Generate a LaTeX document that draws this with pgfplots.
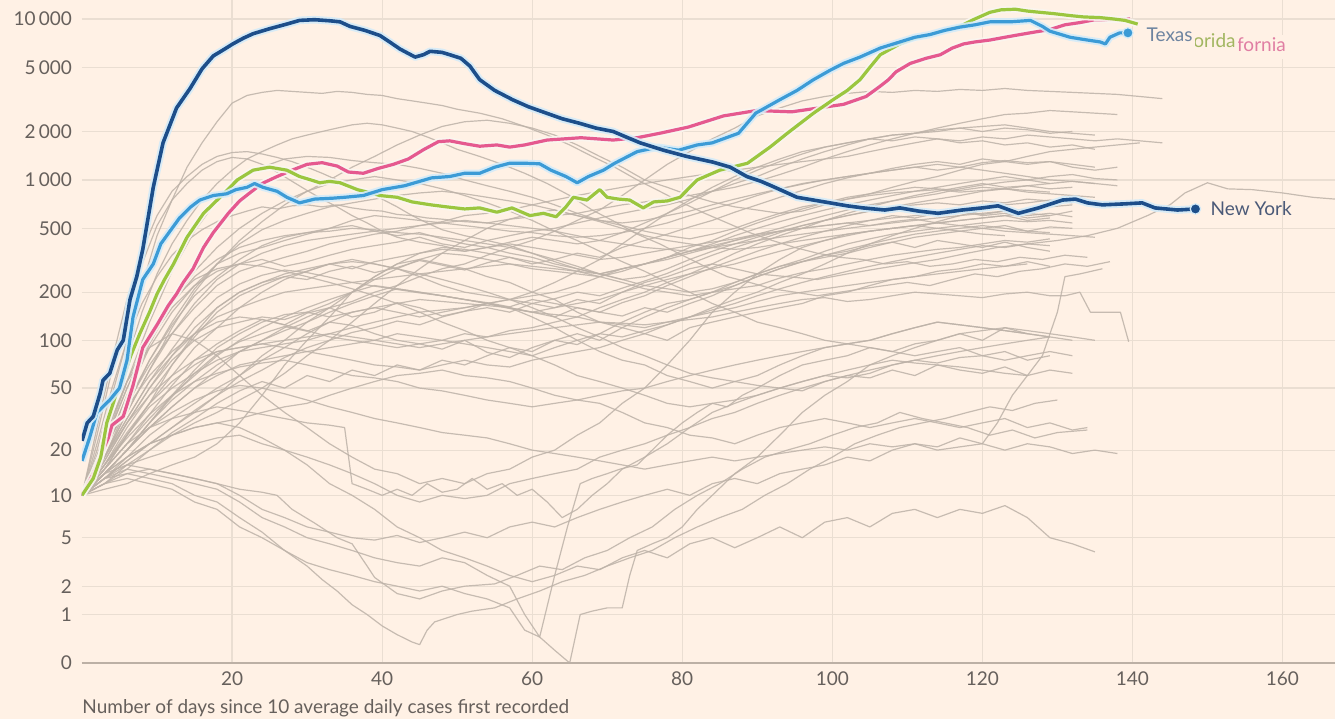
\documentclass[border=0pt]{standalone}
\usepackage{pgfplots}
\usepackage{pgfplotstable}
\pgfplotsset{compat=1.18}
\usepackage{fontspec}
\setmainfont{Lato}
\definecolor{bgc}{HTML}{FFF1E5}
\definecolor{gridc}{HTML}{EADED2}
\definecolor{basec}{HTML}{BCB0A5}
\definecolor{tickc}{HTML}{66605C}
\definecolor{grayl}{HTML}{BDB2A8}
\definecolor{nyc}{HTML}{1D4E8A}
\definecolor{txc}{HTML}{3C9BD6}
\definecolor{flc}{HTML}{9BC63F}
\definecolor{cac}{HTML}{E5598F}
\definecolor{haloblue}{HTML}{D4EBF8}
\definecolor{halow}{HTML}{FAF6F0}
\definecolor{nylab}{HTML}{4B5A78}
\definecolor{txlab}{HTML}{6D84A0}
\definecolor{fllab}{HTML}{A2B660}
\definecolor{calab}{HTML}{E07EA3}
\pgfplotsset{gl/.style={color=grayl, line width=0.6pt, line join=round, opacity=0.85}}
\tikzset{lab/.style={anchor=west, inner sep=1.3pt, fill=bgc, text height=7.2pt, text depth=2.6pt, font=\fontsize{9.5}{11}\selectfont}}

\pgfplotstableread{
d v
0 23
0.7 30
1.5 33
2.4 46
2.8 56
3.7 62
4.7 87
5.5 100
6.4 180
7.3 250
8.1 370
9.5 900
10.8 1700
12.6 2800
14.4 3700
16 4900
17.5 5900
19 6500
20.1 7000
21.5 7600
22.8 8100
25 8700
27.3 9300
29 9800
31 9900
33 9750
34.4 9600
35.7 9000
37.7 8500
39.7 7900
41 7200
42.4 6500
44.4 5800
45.5 6000
46.4 6300
48 6200
49 6000
50.5 5700
51.7 5100
53 4200
55 3600
57.4 3150
59.5 2850
61.9 2600
64 2400
66.3 2250
68.5 2100
70.8 2000
72.5 1850
74.4 1700
77.5 1530
80.6 1400
84.1 1290
86.4 1200
88.6 1050
90.5 980
92.1 910
95.3 780
99.7 720
102 690
104.1 670
107 650
109 670
111.5 640
114.1 620
117.3 650
120 670
122.1 690
124.8 620
127.5 670
130.7 750
132.4 760
134 720
136 700
139 710
141.3 720
143 670
146 650
148.4 660
}\nytab

\pgfplotstableread{
d v
0 17
1 24
2 35
3.7 42
5 50
6 75
6.8 140
8.1 240
9.5 300
10.5 400
12 500
13 580
14.5 680
15.7 750
17.5 800
19.3 820
20.5 870
22 900
23 950
24.1 900
26 850
27.3 780
29 720
31 760
33.4 770
35 780
37.5 800
40 870
43 920
46.6 1030
49 1050
51 1100
53 1100
55 1200
57 1270
59 1270
61 1260
62.5 1150
64.5 1050
66 960
67.5 1050
69.5 1150
71 1270
74 1500
76.8 1600
79.5 1530
82 1650
84 1700
87.5 1950
89.8 2600
93 3150
95.3 3600
97.5 4200
99.7 4800
101.5 5300
103.7 5800
106.4 6600
109 7200
111 7700
113 8000
115 8500
117 8900
119 9200
121 9600
123.7 9600
126.4 9800
128 9000
129 8400
131.7 7700
134 7400
135.7 7200
136.4 7000
137 7700
138.3 8200
139.4 8200
}\txtab

\pgfplotstableread{
d v
0 10
1.5 13
2.5 18
3.3 30
4.5 45
5.5 58
6.5 80
7.7 110
9 150
10 195
11 240
12.2 300
14 440
16.2 620
18.4 780
20.7 1000
22.8 1150
25 1200
27.3 1150
29 1050
30.5 1000
31.7 960
33 980
34.4 960
36.7 870
38.5 830
39.7 800
42 780
44 730
46.5 700
48.6 680
51 660
53 670
55.3 630
57.3 670
59.7 600
61.5 620
63.2 590
64.5 680
65.5 780
67.3 750
69 870
70 780
71.5 760
73 750
74.8 670
76.2 730
78 740
79.7 780
82 1000
85 1150
88.7 1270
91.7 1600
94 1950
97.5 2600
100.1 3150
102 3600
103.7 4200
105 5000
106.4 6000
109 7000
111 7600
113 8000
115 8500
117 9000
119 10000
121 11000
122.5 11400
124.4 11500
126 11200
127.7 11000
129.5 10800
131.7 10500
133.5 10300
135.7 10200
137.5 10000
139 9800
140.7 9300
}\fltab

\pgfplotstableread{
d v
0 10
1.5 14
2.8 20
3.5 24
4 29
5.5 33
6.8 52
8.1 90
10 125
11.5 165
12.6 195
13.5 230
14.8 280
16.2 380
17.5 470
19.5 620
21 740
22.5 840
24 950
26 1050
28 1150
30 1250
32 1280
34 1220
35.5 1120
37.5 1100
39.5 1180
41.5 1250
43.5 1350
45.5 1540
47.5 1730
49 1750
51 1680
53 1620
55.3 1650
57 1600
59 1650
62 1770
66.5 1830
70.8 1770
74 1830
77 1950
80.8 2130
85.5 2500
89.9 2700
94.6 2650
99.3 2850
101.5 2950
104.5 3300
106.3 3800
107.5 4200
108.5 4700
110.4 5300
112.5 5700
114.4 6000
116 6600
117.5 7000
119 7200
121 7400
123 7700
125 8000
127 8300
129 8600
131 9200
133 9500
135 9900
137 9900
139.7 10000
}\catab

\begin{document}
\begin{tikzpicture}
\fill[bgc] (0,0) rectangle (667.5pt,359.5pt);
\useasboundingbox (0,0) rectangle (667.5pt,359.5pt);
\begin{axis}[
  name=ax,
  at={(41pt,28pt)}, anchor=south west,
  width=626.5pt, height=331.5pt, scale only axis,
  xmin=0, xmax=167, ymin=0, ymax=13120,
  y coord trafo/.code={\pgfmathparse{ln(#1+1)}},
  y coord inv trafo/.code={\pgfmathparse{exp(#1)-1}},
  ytick={0,1,2,5,10,20,50,100,200,500,1000,2000,5000,10000},
  yticklabels={0,1,2,5,10,20,50,100,200,500,1\,000,2\,000,5\,000,10\,000},
  xtick={20,40,60,80,100,120,140,160},
  xticklabels={20,40,60,80,100,120,140,160},
  /pgf/number format/assume math mode=true,
  grid=major,
  major grid style={draw=gridc, line width=0.6pt},
  axis lines*=left,
  y axis line style={draw=none},
  x axis line style={draw=basec, line width=1.1pt},
  major tick length=0pt,
  tick style={draw=none},
  ticklabel style={font=\fontsize{9.5}{11}\selectfont, text=tickc},
  yticklabel style={xshift=-1.5pt},
  xticklabel style={yshift=-1pt},
]
% ---------- grey states ----------
\addplot[gl] coordinates {(0,10)(3,15)(6,25)(9,40)(12,70)(15,110)(18,160)(21,200)(24,230)(27,260)(30,280)(33,300)(36,320)(39,300)(42,280)(45,250)(48,220)(51,200)(54,190)(57,180)(60,170)(63,160)(66,180)(69,170)(72,200)(75,230)(78,250)(81,280)(84,300)(87,280)(90,260)(94,250)(98,240)(102,260)(106,280)(110,300)(114,320)(118,350)(122,380)(126,400)(130,420)(134,450)(138,500)(142,600)(145,700)(147,830)(150,960)(152.7,880)(156,870)(160,830)(164,780)(167,760)};
\addplot[gl] coordinates {(0,10)(2,20)(4,45)(6,100)(8,220)(10,450)(12,750)(14,1200)(16,1700)(18,2300)(20,3000)(22,3350)(24,3500)(26,3600)(28,3550)(30,3500)(32,3450)(34,3550)(36,3500)(38,3400)(40,3350)(42,3200)(44,3100)(46,3000)(48,2900)(50,2750)(53,2600)(56,2400)(59,2150)(62,1900)(65,1650)(68,1400)(71,1200)(74,1000)(77,850)(80,720)(83,620)(86,540)(89,470)(92,420)(95,380)(98,350)(101,330)(104,320)(107,300)(110,310)(113,290)(116,300)(119,320)(122,310)(125,330)(128,320)(131,340)(134,330)};
\addplot[gl] coordinates {(0,10)(3,14)(6,20)(9,28)(12,38)(15,50)(18,65)(21,85)(24,100)(27,120)(30,140)(33,160)(36,175)(39,200)(42,220)(45,250)(48,280)(51,300)(54,340)(57,380)(60,420)(63,480)(66,560)(69,650)(72,800)(75,1000)(78,1250)(81,1500)(84,1800)(87,2100)(90,2500)(93,2800)(96,3100)(99,3300)(102,3450)(105,3550)(108,3500)(111,3600)(114,3550)(117,3650)(120,3600)(123,3700)(126,3600)(129,3550)(132,3500)(135,3450)(138,3400)(141,3300)(144,3200)};
\addplot[gl] coordinates {(0,10)(2,18)(4,35)(6,75)(8,150)(10,260)(12,400)(14,560)(16,750)(18,950)(20,1150)(22,1350)(24,1500)(26,1650)(28,1800)(30,1900)(32,2000)(34,2100)(36,2200)(38,2250)(40,2200)(42,2100)(44,2000)(46,1850)(48,1700)(50,1550)(53,1400)(56,1250)(59,1100)(62,950)(65,800)(68,650)(71,550)(74,460)(77,400)(80,340)(83,290)(86,250)(89,230)(92,210)(95,200)(98,190)(101,200)(104,210)(107,220)(110,230)(113,220)(116,240)(119,260)(122,250)(125,270)(128,280)(131,300)(134,290)(137,310)};
\addplot[gl] coordinates {(0,10)(3,18)(6,35)(9,65)(12,120)(15,200)(18,300)(21,420)(24,550)(27,700)(30,850)(33,1000)(36,1200)(39,1400)(42,1650)(45,1900)(48,2150)(51,2300)(54,2350)(57,2250)(60,2100)(63,1900)(66,1650)(69,1400)(72,1200)(75,1000)(78,900)(81,800)(84,730)(87,680)(90,650)(93,620)(96,640)(99,700)(102,760)(105,820)(108,900)(111,980)(114,1050)(117,1150)(120,1250)(123,1300)(126,1400)(129,1500)(132,1550)(135,1600)(138,1650)(141,1700)};
\addplot[gl] coordinates {(0,10)(3,22)(6,55)(9,130)(12,270)(15,480)(18,750)(21,1000)(24,1200)(27,1350)(30,1400)(33,1380)(36,1320)(39,1280)(42,1250)(45,1180)(48,1100)(51,1000)(54,920)(57,850)(60,780)(63,700)(66,620)(69,560)(72,520)(75,480)(78,450)(81,430)(84,460)(87,500)(90,560)(93,620)(96,680)(99,720)(102,760)(105,800)(108,830)(111,850)(114,870)(117,840)(120,860)(123,880)(126,840)(129,820)(132,800)(135,780)};
\addplot[gl] coordinates {(0,10)(2,28)(4,75)(6,180)(8,360)(10,600)(12,850)(14,1050)(16,1250)(18,1400)(20,1480)(22,1500)(24,1450)(26,1380)(28,1300)(30,1200)(32,1100)(34,1000)(36,920)(38,850)(40,760)(42,680)(44,600)(46,540)(48,490)(51,450)(54,420)(57,390)(60,350)(63,310)(66,280)(69,260)(72,240)(75,250)(78,280)(81,320)(84,360)(87,400)(90,440)(93,480)(96,520)(99,560)(102,600)(105,640)(108,680)(111,700)(114,720)(117,700)(120,740)(123,720)(126,760)(129,740)};
\addplot[gl] coordinates {(0,10)(2,25)(4,65)(6,150)(8,300)(10,520)(12,750)(14,950)(16,1150)(18,1300)(20,1380)(22,1350)(24,1250)(26,1120)(28,980)(30,860)(32,760)(34,680)(36,600)(38,540)(40,480)(42,440)(45,410)(48,390)(51,360)(54,380)(57,410)(60,440)(63,420)(66,400)(69,420)(72,470)(75,540)(78,620)(81,720)(84,850)(87,1000)(90,1150)(93,1300)(96,1450)(99,1600)(102,1700)(105,1800)(108,1900)(111,1950)(114,2000)(117,2100)(120,2150)(123,2200)(126,2100)(129,2000)(132,1950)(135,1900)};
\addplot[gl] coordinates {(0,10)(3,14)(6,20)(9,30)(12,45)(15,65)(18,90)(21,110)(24,130)(27,145)(30,150)(33,140)(36,150)(39,160)(42,150)(45,140)(48,150)(51,160)(54,170)(57,180)(60,200)(63,230)(66,270)(69,320)(72,400)(75,500)(78,620)(81,750)(84,900)(87,1050)(90,1200)(93,1350)(96,1500)(99,1600)(102,1700)(105,1800)(108,1750)(111,1850)(114,1800)(117,1700)(120,1750)(123,1650)(126,1700)(129,1600)(132,1650)(135,1550)};
\addplot[gl] coordinates {(0,10)(3,16)(6,28)(9,45)(12,70)(15,105)(18,150)(21,190)(24,220)(27,250)(30,240)(33,270)(36,290)(39,265)(42,285)(45,315)(48,295)(51,275)(54,305)(57,330)(60,300)(63,320)(66,350)(69,330)(72,380)(75,420)(78,460)(81,510)(84,560)(87,630)(90,700)(93,780)(96,860)(99,950)(102,1030)(105,1100)(108,1180)(111,1250)(114,1300)(117,1250)(120,1350)(123,1300)(126,1250)(129,1300)(132,1200)(135,1150)(138,1200)};
\addplot[gl] coordinates {(0,10)(2,22)(4,50)(6,100)(8,170)(10,250)(12,340)(14,420)(16,490)(18,550)(20,600)(22,640)(24,680)(26,660)(28,690)(30,700)(32,680)(34,700)(36,670)(38,650)(40,640)(42,610)(44,600)(46,580)(48,570)(51,550)(54,540)(57,570)(60,590)(63,600)(66,620)(69,660)(72,700)(75,730)(78,770)(81,800)(84,850)(87,900)(90,980)(93,1080)(96,1200)(99,1350)(102,1500)(105,1650)(108,1800)(111,1950)(114,2100)(117,2250)(120,2400)(123,2550)(126,2600)(129,2700)(132,2650)(135,2600)(138,2550)};
\addplot[gl] coordinates {(0,10)(3,20)(6,40)(9,75)(12,125)(15,190)(18,250)(21,320)(24,390)(27,440)(30,470)(33,500)(36,520)(39,480)(42,450)(45,470)(48,430)(51,400)(54,380)(57,350)(60,330)(63,300)(66,280)(69,260)(72,280)(75,300)(78,320)(81,350)(84,380)(87,420)(90,460)(93,500)(96,550)(99,600)(102,650)(105,700)(108,740)(111,780)(114,820)(117,880)(120,930)(123,970)(126,1000)(129,1050)(132,1080)(135,1020)(138,1000)};
\addplot[gl] coordinates {(0,10)(3,13)(6,17)(9,22)(12,28)(15,36)(18,45)(21,55)(24,65)(27,78)(30,90)(33,100)(36,112)(39,120)(42,132)(45,125)(48,140)(51,152)(54,160)(57,150)(60,170)(63,182)(66,200)(69,190)(72,212)(75,235)(78,262)(81,300)(84,340)(87,380)(90,420)(93,470)(96,520)(99,560)(102,600)(105,640)(108,680)(111,720)(114,760)(117,800)(120,850)(123,880)(126,920)(129,950)(132,980)(135,950)};
\addplot[gl] coordinates {(0,10)(3,15)(6,22)(9,34)(12,52)(15,75)(18,95)(21,115)(24,135)(27,125)(30,148)(33,160)(36,140)(39,150)(42,172)(45,160)(48,142)(51,152)(54,170)(57,158)(60,150)(63,140)(66,160)(69,150)(72,172)(75,190)(78,220)(81,250)(84,285)(87,320)(90,360)(93,400)(96,440)(99,480)(102,520)(105,560)(108,600)(111,580)(114,620)(117,650)(120,610)(123,640)(126,600)(129,620)(132,590)};
\addplot[gl] coordinates {(0,10)(3,14)(6,20)(9,30)(12,44)(15,62)(18,82)(21,98)(24,110)(27,122)(30,114)(33,130)(36,124)(39,110)(42,100)(45,95)(48,88)(51,100)(54,84)(57,78)(60,90)(63,100)(66,94)(69,110)(72,130)(75,150)(78,170)(81,180)(84,200)(87,230)(90,260)(93,290)(96,310)(99,330)(102,350)(105,380)(108,410)(111,440)(114,460)(117,480)(120,500)(123,520)(126,480)(129,510)(132,500)};
\addplot[gl] coordinates {(0,10)(3,18)(6,38)(9,75)(12,130)(15,210)(18,300)(21,400)(24,490)(27,560)(30,620)(33,680)(36,720)(39,760)(42,800)(45,830)(48,850)(51,820)(54,780)(57,740)(60,700)(63,650)(66,600)(69,560)(72,540)(75,560)(78,600)(81,640)(84,700)(87,760)(90,820)(93,880)(96,940)(99,1000)(102,1050)(105,1100)(108,1150)(111,1200)(114,1250)(117,1200)(120,1280)(123,1320)(126,1280)(129,1300)(132,1250)(135,1200)};
\addplot[gl] coordinates {(0,10)(3,18)(6,32)(9,55)(12,88)(15,135)(18,185)(21,225)(24,255)(27,275)(30,265)(33,248)(36,230)(39,218)(42,208)(45,198)(48,190)(51,180)(54,172)(57,162)(60,180)(63,170)(66,160)(69,150)(72,142)(75,160)(78,150)(81,170)(84,190)(87,220)(90,250)(93,280)(96,310)(99,340)(102,360)(105,390)(108,410)(111,380)(114,420)(117,400)(120,380)(123,410)(126,380)(129,360)};
\addplot[gl] coordinates {(0,10)(3,12)(6,15)(9,20)(12,26)(15,32)(18,40)(21,48)(24,55)(27,50)(30,60)(33,55)(36,65)(39,60)(42,70)(45,65)(48,75)(51,70)(54,80)(57,90)(60,85)(63,100)(66,110)(69,100)(72,120)(75,140)(78,160)(81,180)(84,200)(87,210)(90,220)(93,245)(96,265)(99,280)(102,300)(105,320)(108,340)(111,355)(114,370)(117,380)(120,400)(123,420)(126,410)(129,430)};
\addplot[gl] coordinates {(0,10)(3,12)(6,16)(9,20)(12,25)(15,30)(18,35)(21,42)(24,50)(27,62)(30,80)(33,100)(36,130)(39,170)(42,220)(45,280)(48,350)(51,420)(54,500)(57,570)(60,620)(63,650)(66,600)(69,550)(72,500)(75,450)(78,420)(81,400)(84,380)(87,370)(90,380)(93,400)(96,420)(99,440)(102,460)(105,480)(108,500)(111,520)(114,540)(117,560)(120,580)(123,600)(126,620)(129,600)(132,640)};
\addplot[gl] coordinates {(0,10)(3,11)(6,12)(9,14)(12,16)(15,18)(18,22)(21,30)(24,45)(27,70)(30,100)(33,140)(36,200)(39,250)(42,300)(45,320)(48,300)(51,280)(54,250)(57,230)(60,200)(63,180)(66,150)(69,130)(72,120)(75,110)(78,100)(81,120)(84,130)(87,140)(90,150)(93,160)(96,170)(99,190)(102,200)(105,220)(108,240)(111,250)(114,270)(117,280)(120,300)(123,290)(126,310)(129,290)};
\addplot[gl] coordinates {(0,10)(3,24)(6,55)(9,110)(12,180)(15,240)(18,280)(21,300)(24,320)(27,290)(30,310)(33,340)(36,370)(39,390)(42,410)(45,440)(48,400)(51,380)(54,420)(57,450)(60,480)(63,500)(66,540)(69,580)(72,620)(75,660)(78,700)(81,760)(84,850)(87,950)(90,1050)(93,1200)(96,1350)(99,1500)(102,1650)(105,1800)(108,1900)(111,1950)(114,2050)(117,2100)(120,2000)(123,2100)(126,2050)(129,1950)(132,2000)};
\addplot[gl] coordinates {(0,10)(3,20)(6,40)(9,70)(12,110)(15,160)(18,220)(21,270)(24,300)(27,330)(30,360)(33,400)(36,430)(39,460)(42,480)(45,520)(48,550)(51,600)(54,620)(57,650)(60,700)(63,750)(66,800)(69,850)(72,900)(75,950)(78,1000)(81,1050)(84,1100)(87,1150)(90,1200)(93,1250)(96,1300)(99,1350)(102,1400)(105,1500)(108,1600)(111,1700)(114,1800)(117,1750)(120,1850)(123,1800)(126,1900)(129,1850)(132,1800)(135,1750)(138,1800)(141,1750)(144,1700)};
\addplot[gl] coordinates {(0,10)(3,20)(6,45)(9,90)(12,150)(15,220)(18,300)(21,350)(24,380)(27,420)(30,460)(33,500)(36,560)(39,600)(42,580)(45,560)(48,540)(51,520)(54,500)(57,480)(60,470)(63,450)(66,440)(69,450)(72,470)(75,500)(78,540)(81,600)(84,660)(87,720)(90,800)(93,880)(96,950)(99,1000)(102,1050)(105,1100)(108,1150)(111,1200)(114,1150)(117,1200)(120,1150)(123,1100)(126,1050)(129,1000)(132,980)(135,950)(138,920)};
\addplot[gl] coordinates {(0,10)(3,17)(6,30)(9,50)(12,80)(15,120)(18,160)(21,200)(24,230)(27,250)(30,270)(33,300)(36,280)(39,310)(42,330)(45,350)(48,370)(51,360)(54,380)(57,400)(60,380)(63,360)(66,340)(69,320)(72,330)(75,350)(78,370)(81,390)(84,410)(87,430)(90,460)(93,480)(96,500)(99,520)(102,540)(105,520)(108,550)(111,570)(114,540)(117,520)(120,500)(123,480)(126,470)(129,460)(132,450)(135,440)};
\addplot[gl] coordinates {(0,10)(3,22)(6,50)(9,100)(12,170)(15,250)(18,320)(21,380)(24,420)(27,450)(30,470)(33,480)(36,500)(39,490)(42,470)(45,460)(48,440)(51,420)(54,400)(57,380)(60,350)(63,320)(66,290)(69,260)(72,240)(75,220)(78,210)(81,200)(84,210)(87,230)(90,260)(93,290)(96,320)(99,360)(102,400)(105,430)(108,460)(111,480)(114,500)(117,520)(120,540)(123,560)(126,550)(129,560)(132,540)};
\addplot[gl] coordinates {(0,10)(3,20)(6,45)(9,95)(12,170)(15,270)(18,380)(21,500)(24,620)(27,740)(30,850)(33,950)(36,1000)(39,1050)(42,1000)(45,950)(48,880)(51,800)(54,720)(57,640)(60,560)(63,480)(66,420)(69,360)(72,310)(75,270)(78,230)(81,200)(84,170)(87,150)(90,130)(93,120)(96,110)(99,100)(102,95)(105,90)(108,85)(111,80)(114,85)(117,90)(120,80)(123,75)(126,80)(129,85)(132,80)};
\addplot[gl] coordinates {(0,10)(3,18)(6,35)(9,65)(12,110)(15,170)(18,240)(21,300)(24,350)(27,390)(30,420)(33,440)(36,460)(39,480)(42,500)(45,520)(48,540)(51,560)(54,540)(57,520)(60,500)(63,480)(66,450)(69,420)(72,400)(75,380)(78,370)(81,360)(84,380)(87,400)(90,420)(93,440)(96,460)(99,480)(102,500)(105,520)(108,540)(111,560)(114,580)(117,600)(120,620)(123,640)(126,660)(129,680)(132,700)};
\addplot[gl] coordinates {(0,10)(3,16)(6,25)(9,38)(12,50)(15,62)(18,75)(21,85)(24,90)(27,95)(30,100)(33,110)(36,120)(39,130)(42,140)(45,150)(48,155)(51,160)(54,170)(57,180)(60,190)(63,200)(66,220)(69,250)(72,280)(75,300)(78,330)(81,360)(84,390)(87,420)(90,450)(93,480)(96,500)(99,520)(102,540)(105,560)(108,580)(111,600)(114,620)(117,640)(120,600)(123,620)(126,580)(129,600)};
\addplot[gl] coordinates {(0,10)(3,17)(6,30)(9,50)(12,75)(15,100)(18,120)(21,130)(24,140)(27,135)(30,150)(33,170)(36,200)(39,240)(42,280)(45,320)(48,350)(51,340)(54,320)(57,300)(60,290)(63,280)(66,270)(69,260)(72,280)(75,300)(78,330)(81,380)(84,420)(87,480)(90,540)(93,600)(96,660)(99,720)(102,780)(105,820)(108,860)(111,900)(114,880)(117,860)(120,900)(123,880)(126,860)(129,840)};
\addplot[gl] coordinates {(0,10)(3,14)(6,20)(9,30)(12,42)(15,55)(18,70)(21,85)(24,100)(27,115)(30,130)(33,150)(36,170)(39,190)(42,210)(45,200)(48,190)(51,180)(54,170)(57,160)(60,150)(63,160)(66,170)(69,180)(72,200)(75,220)(78,240)(81,260)(84,280)(87,300)(90,330)(93,360)(96,390)(99,420)(102,450)(105,480)(108,500)(111,520)(114,540)(117,560)(120,580)(123,600)(126,560)(129,580)};
\addplot[gl] coordinates {(0,10)(3,13)(6,17)(9,22)(12,28)(15,35)(18,45)(21,60)(24,80)(27,100)(30,130)(33,160)(36,200)(39,250)(42,300)(45,350)(48,380)(51,370)(54,350)(57,330)(60,310)(63,290)(66,270)(69,250)(72,230)(75,210)(78,200)(81,190)(84,200)(87,220)(90,250)(93,280)(96,310)(99,340)(102,370)(105,400)(108,430)(111,460)(114,480)(117,500)(120,520)(123,500)(126,480)(129,470)};
\addplot[gl] coordinates {(0,10)(3,16)(6,26)(9,40)(12,55)(15,70)(18,85)(21,90)(24,95)(27,90)(30,85)(33,80)(36,75)(39,70)(42,68)(45,65)(48,70)(51,75)(54,70)(57,68)(60,75)(63,80)(66,85)(69,90)(72,100)(75,110)(78,125)(81,140)(84,160)(87,180)(90,200)(93,230)(96,260)(99,300)(102,350)(105,400)(108,450)(111,500)(114,550)(117,600)(120,650)(123,700)(126,720)(129,750)(132,720)};
\addplot[gl] coordinates {(0,10)(3,18)(6,32)(9,55)(12,80)(15,110)(18,140)(21,160)(24,180)(27,200)(30,210)(33,220)(36,230)(39,240)(42,250)(45,260)(48,270)(51,280)(54,290)(57,300)(60,280)(63,270)(66,260)(69,250)(72,270)(75,300)(78,330)(81,360)(84,400)(87,450)(90,500)(93,550)(96,600)(99,650)(102,700)(105,750)(108,800)(111,850)(114,900)(117,950)(120,1000)(123,1050)(126,1000)(129,950)};
\addplot[gl] coordinates {(0,10)(3,20)(6,38)(9,60)(12,85)(15,110)(18,130)(21,140)(24,135)(27,125)(30,115)(33,105)(36,100)(39,95)(42,90)(45,95)(48,100)(51,110)(54,105)(57,115)(60,120)(63,130)(66,140)(69,160)(72,180)(75,200)(78,230)(81,260)(84,300)(87,350)(90,400)(93,450)(96,500)(99,560)(102,620)(105,680)(108,740)(111,800)(114,850)(117,900)(120,950)(123,900)(126,920)(129,880)(132,900)};
\addplot[gl] coordinates {(0,10)(3,14)(6,20)(9,28)(12,38)(15,50)(18,60)(21,70)(24,75)(27,80)(30,85)(33,90)(36,95)(39,100)(42,110)(45,105)(48,100)(51,95)(54,90)(57,85)(60,80)(63,90)(66,100)(69,110)(72,105)(75,115)(78,125)(81,140)(84,155)(87,170)(90,190)(93,210)(96,230)(99,250)(102,270)(105,290)(108,310)(111,330)(114,350)(117,370)(120,390)(123,380)(126,400)(129,390)};
\addplot[gl] coordinates {(0,10)(3,15)(6,25)(9,40)(12,60)(15,90)(18,120)(21,160)(24,200)(27,240)(30,270)(33,300)(36,310)(39,300)(42,280)(45,260)(48,240)(51,220)(54,200)(57,180)(60,160)(63,140)(66,120)(69,105)(72,90)(75,80)(78,70)(81,62)(84,58)(87,55)(90,52)(93,50)(96,55)(99,60)(102,58)(105,62)(108,70)(111,75)(114,80)(117,85)(120,90)(123,95)(126,100)(129,105)};
\addplot[gl] coordinates {(0,10)(3,15)(6,22)(9,32)(12,45)(15,60)(18,80)(21,100)(24,120)(27,140)(30,160)(33,180)(36,200)(39,220)(42,210)(45,200)(48,190)(51,180)(54,170)(57,160)(60,140)(63,120)(66,100)(69,85)(72,75)(75,70)(78,60)(81,55)(84,50)(87,55)(90,60)(93,70)(96,80)(99,90)(102,95)(105,100)(108,110)(111,120)(114,130)(117,125)(120,120)(123,115)(126,110)};
\addplot[gl] coordinates {(0,10)(3,13)(6,18)(9,25)(12,32)(15,40)(18,50)(21,60)(24,75)(27,90)(30,110)(33,130)(36,150)(39,160)(42,170)(45,180)(48,175)(51,170)(54,165)(57,160)(60,150)(63,145)(66,140)(69,130)(72,125)(75,120)(78,130)(81,140)(84,150)(87,160)(90,175)(93,190)(96,200)(99,210)(102,220)(105,230)(108,240)(111,250)(114,260)(117,270)(120,280)(123,290)(126,300)};
\addplot[gl] coordinates {(0,10)(3,25)(6,55)(9,90)(12,110)(15,100)(18,80)(21,60)(24,45)(27,35)(30,28)(33,22)(36,18)(39,15)(42,14)(45,12)(48,13)(51,12)(54,14)(57,15)(60,18)(63,20)(66,25)(69,30)(72,40)(75,50)(78,70)(81,100)(84,150)(87,200)(90,260)(93,320)(96,380)(99,420)(102,460)(105,480)(108,500)(111,520)(114,500)(117,480)(120,460)(123,450)};
\addplot[gl] coordinates {(0,10)(3,14)(6,18)(9,22)(12,25)(15,28)(18,30)(21,28)(24,24)(27,20)(30,16)(33,12)(36,10)(39,8)(42,6)(45,5)(48,4)(51,3.5)(54,3)(57,2.5)(60,2.2)(63,2.5)(66,3)(69,2.8)(72,3.5)(75,4)(78,3.5)(81,4.5)(84,5)(87,4.2)(90,5)(93,6)(96,5)(99,6.5)(102,7)(105,6)(108,7.5)(111,8)(114,7)(117,8)(120,7.5)(123,8.5)(126,7)(129,5)(132,4.5)(135,3.9)};
\addplot[gl] coordinates {(0,10)(3,12)(6,13)(9,12)(12,11)(15,9)(18,8)(21,6)(24,5)(27,4)(30,3.2)(33,2.8)(36,2.5)(39,2.2)(42,2)(45,1.8)(48,2)(51,1.7)(54,1.5)(57,1.2)(59,0.6)(61,0.45)(63,0.2)(65,0)(66.4,1)(68,1.1)(70,1.2)(72,1.2)(73,2.5)(74,4)(76,4.5)(78,5)(80,6)(82,8)(84,10)(87,14)(90,18)(93,25)(96,35)(99,45)(102,55)(105,70)(108,80)(111,90)(114,100)(117,110)(120,115)(123,120)(126,115)(129,110)(132,105)(135,100)};
\addplot[gl] coordinates {(0,10)(3,13)(6,15)(9,14)(12,13)(15,12)(18,11)(21,9)(24,7)(27,6)(30,5)(33,4.5)(36,4)(39,3.5)(42,3.2)(45,3)(48,3.5)(51,3.2)(54,2.5)(57,2)(59,1)(61,0.45)(63,2.5)(64.7,6)(66.4,12)(68,13)(70,14)(71.7,15)(74,16)(76,20)(78,25)(80,30)(82,35)(84,40)(86,38)(88,45)(90,50)(93,60)(96,70)(99,75)(102,80)(105,90)(108,85)(111,95)(114,100)(117,110)(120,100)(123,120)(126,110)(129,105)(132,100)};
\addplot[gl] coordinates {(0,10)(3,13)(6,14)(9,13)(12,12)(15,10)(18,9)(21,7)(24,5.5)(27,4)(30,3)(32,2.3)(34,1.8)(36,1.3)(38,1)(40,0.7)(42,0.5)(44,0.35)(45,0.3)(46,0.6)(47,0.8)(50,1)(52,1.1)(55,1.2)(58,1.5)(61,1.8)(64,2.2)(67,2.5)(70,3)(73,3.5)(76,4)(79,5)(82,6)(85,7)(88,8)(91,10)(94,12)(97,15)(100,18)(103,22)(106,25)(109,28)(112,30)(115,32)(118,35)(121,38)(124,36)(127,40)(130,42)};
\addplot[gl] coordinates {(0,10)(3,14)(6,16)(9,15)(12,14)(15,13)(18,12)(21,11)(24,10.5)(26,10)(28,8)(31,6.4)(34,5)(36,4.5)(38,3)(39,2.4)(42,1.7)(45,1.5)(48,1.8)(51,2)(55,2.1)(58,2.5)(61,3)(64,2.8)(67,3.5)(70,4)(73,5)(76,6)(79,8)(82,10)(85,12)(88,15)(91,18)(94,20)(97,22)(100,25)(103,28)(106,30)(109,35)(112,32)(115,30)(118,28)(121,25)(124,27)(127,24)(130,26)(134,27)};
\addplot[gl] coordinates {(0,10)(3,15)(6,22)(9,28)(12,32)(15,35)(18,38)(21,36)(24,34)(27,32)(30,30)(33,29)(35,28)(36,12)(38,11)(40,10)(42,11)(44,10)(46,12)(48,10.5)(50,11)(52,13)(54,11)(56,12)(58,10)(60,11)(62,9)(64,7)(66,8)(68,10)(70,12)(72,15)(75,18)(78,22)(81,28)(84,35)(87,40)(90,45)(93,50)(96,48)(99,55)(102,60)(105,58)(108,65)(111,60)(114,70)(117,65)(120,62)(123,68)(126,60)(129,65)(132,62)};
\addplot[gl] coordinates {(0,10)(3,12)(6,14)(9,15)(12,14)(15,13)(18,12)(21,10)(24,8)(27,7)(30,6)(33,5.5)(36,5)(39,4.8)(42,5.2)(45,4.6)(48,5)(51,5.5)(54,5)(57,6)(60,6.5)(63,6)(66,7)(69,8)(72,9)(75,10)(78,11)(81,10)(84,12)(87,13)(90,12)(93,14)(96,15)(99,16)(102,18)(105,17)(108,20)(111,22)(114,21)(117,24)(120,22)(123,20)(126,22)(129,21)(132,19)(135,20)(138,19)};
\addplot[gl] coordinates {(0,10)(3,13)(6,16)(9,18)(12,20)(15,22)(18,24)(21,25)(24,22)(27,20)(30,18)(33,16)(36,14)(39,12)(42,10)(45,9)(48,10)(51,9.5)(54,10)(57,12)(60,13)(63,14)(66,15)(69,18)(72,20)(75,22)(78,25)(81,28)(84,32)(87,35)(90,40)(93,45)(96,50)(99,55)(102,60)(105,65)(108,70)(111,75)(114,72)(117,78)(120,80)(123,85)(126,75)(129,80)};
\addplot[gl] coordinates {(0,10)(3,14)(6,18)(9,22)(12,25)(15,28)(18,30)(21,32)(24,35)(27,38)(30,40)(33,45)(36,50)(39,55)(42,60)(45,62)(48,65)(51,60)(54,58)(57,55)(60,50)(63,45)(66,42)(69,40)(72,35)(75,30)(78,28)(81,25)(84,24)(87,22)(90,25)(93,28)(96,30)(99,32)(102,30)(105,28)(108,30)(111,32)(114,30)(117,28)(120,30)(123,32)(126,28)(129,30)(132,27)(134,28)};
\addplot[gl] coordinates {(0,10)(3,14)(6,20)(9,28)(12,35)(15,42)(18,48)(21,52)(24,50)(27,46)(30,42)(33,38)(36,35)(39,32)(42,30)(45,28)(48,26)(51,25)(54,24)(57,22)(60,20)(63,19)(66,18)(69,17)(72,16)(75,15)(78,16)(81,17)(84,18)(87,17)(90,18)(93,19)(96,20)(99,21)(102,20)(105,22)(108,21)(111,22)(114,20)(117,21)(120,22)(122,30)(124,45)(126,60)(128,80)(130,150)(131,250)(133,260)(136,280)};
\addplot[gl] coordinates {(0,10)(3,18)(6,30)(9,45)(12,60)(15,75)(18,85)(21,90)(24,95)(27,100)(30,105)(33,110)(36,105)(39,100)(42,95)(45,90)(48,95)(51,100)(54,105)(57,110)(60,115)(63,120)(66,125)(69,130)(72,128)(75,125)(78,130)(81,135)(84,140)(87,150)(90,160)(93,170)(96,180)(99,185)(102,175)(105,180)(108,190)(111,200)(114,195)(117,190)(120,185)(123,195)(126,200)(129,190)(131,190)(133,200)(134.4,150)(138.4,150)(139.5,98)};
\addplot[gl] coordinates {(0,10)(3,16)(6,24)(9,34)(12,45)(15,55)(18,62)(21,68)(24,72)(27,75)(30,70)(33,65)(36,60)(39,58)(42,55)(45,50)(48,48)(51,45)(54,42)(57,40)(60,38)(63,40)(66,42)(69,45)(72,48)(75,50)(78,55)(81,60)(84,65)(87,70)(90,75)(93,80)(96,85)(99,90)(102,95)(105,100)(108,110)(111,120)(114,130)(117,125)(120,120)(123,115)(126,110)(129,105)};
\addplot[gl] coordinates {(0,10)(3,22)(6,50)(9,100)(12,160)(15,220)(18,270)(21,300)(24,290)(27,270)(30,250)(33,230)(36,210)(39,190)(42,170)(45,150)(48,130)(51,115)(54,100)(57,90)(60,80)(63,70)(66,60)(69,55)(72,50)(75,45)(78,40)(81,38)(84,40)(87,42)(90,45)(93,50)(96,55)(99,60)(102,65)(105,70)(108,75)(111,72)(114,70)(117,68)(120,65)(123,62)(126,60)};
% ---------- highlighted states ----------
\addplot[draw=halow, line width=3.4pt, line join=round, opacity=0.9] table[x=d,y=v] {\catab};
\addplot[draw=cac, line width=1.6pt, line join=round] table[x=d,y=v] {\catab};
\addplot[draw=halow, line width=3.4pt, line join=round, opacity=0.9] table[x=d,y=v] {\fltab};
\addplot[draw=flc, line width=1.6pt, line join=round] table[x=d,y=v] {\fltab};
\addplot[draw=haloblue, line width=3.6pt, line join=round, opacity=0.9] table[x=d,y=v] {\txtab};
\addplot[draw=txc, line width=1.6pt, line join=round] table[x=d,y=v] {\txtab};
\addplot[draw=haloblue, line width=3.8pt, line join=round, opacity=0.9] table[x=d,y=v] {\nytab};
\addplot[draw=nyc, line width=1.8pt, line join=round] table[x=d,y=v] {\nytab};
\addplot[only marks, mark=*, mark size=2.6pt, mark options={fill=txc, draw=haloblue, line width=0.6pt}] coordinates {(139.4,8200)};
\addplot[only marks, mark=*, mark size=2.6pt, mark options={fill=nyc, draw=haloblue, line width=0.6pt}] coordinates {(148.4,660)};
% ---------- labels ----------
\node[lab, text=calab] at (axis cs:149.4,6700) {California};
\node[lab, text=fllab] at (axis cs:145.7,7100) {Florida};
\node[lab, text=txlab] at (axis cs:141.5,7730) {Texas};
\node[anchor=west, inner sep=1pt, text=nylab, font=\fontsize{9.5}{11}\selectfont] at (axis cs:150.1,660) {New York};
\end{axis}
\node[anchor=base west, inner sep=0pt, text=tickc, font=\fontsize{9.5}{11}\selectfont] at (41pt,2.8pt) {Number of days since 10 average daily cases first recorded};
\end{tikzpicture}
\end{document}
